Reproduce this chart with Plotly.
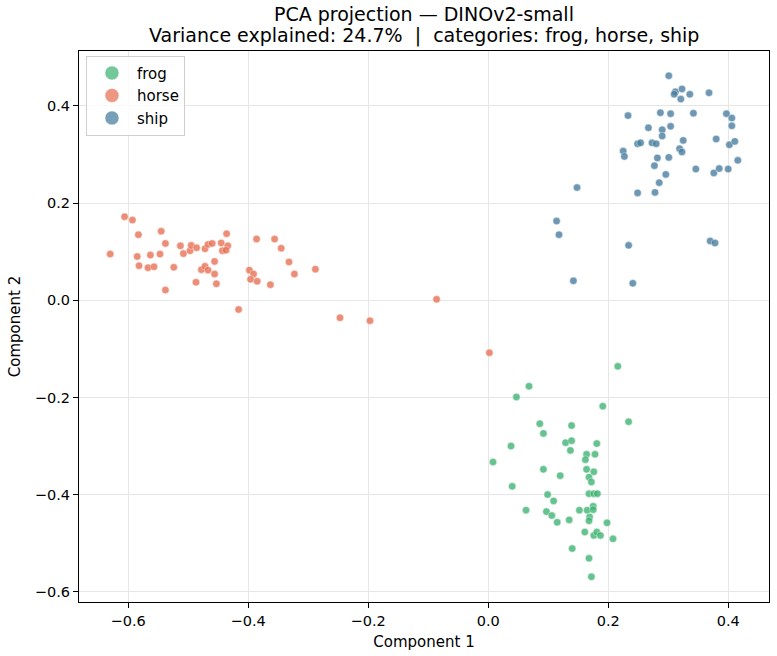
import plotly.graph_objects as go

categories = ["frog", "horse", "ship"]
colors = ["#3cb371", "#e76f51", "#457b9d"]

frog_x = [0.216, 0.068, 0.047, 0.191, 0.234, 0.086, 0.139, 0.092, 0.038, 0.129,
          0.139, 0.181, 0.137, 0.008, 0.164, 0.178, 0.162, 0.092, 0.120, 0.164,
          0.176, 0.168, 0.172, 0.040, 0.099, 0.109, 0.168, 0.176, 0.182, 0.063,
          0.097, 0.106, 0.115, 0.135, 0.152, 0.165, 0.175, 0.175, 0.169, 0.168,
          0.198, 0.161, 0.176, 0.181, 0.187, 0.208, 0.140, 0.168, 0.172]
frog_y = [-0.136, -0.177, -0.199, -0.218, -0.250, -0.254, -0.258, -0.274, -0.300, -0.293,
          -0.289, -0.295, -0.309, -0.333, -0.317, -0.317, -0.328, -0.348, -0.361, -0.348,
          -0.353, -0.364, -0.374, -0.383, -0.400, -0.413, -0.398, -0.398, -0.398, -0.432,
          -0.435, -0.443, -0.457, -0.452, -0.432, -0.432, -0.424, -0.431, -0.446, -0.454,
          -0.458, -0.477, -0.484, -0.477, -0.484, -0.491, -0.511, -0.531, -0.569]

horse_x = [-0.606, -0.593, -0.630, -0.583, -0.545, -0.538, -0.585, -0.582, -0.567, -0.557,
           -0.563, -0.547, -0.538, -0.524, -0.513, -0.508, -0.497, -0.495, -0.486, -0.472,
           -0.467, -0.460, -0.487, -0.478, -0.472, -0.467, -0.456, -0.456, -0.453, -0.445,
           -0.436, -0.434, -0.443, -0.437, -0.416, -0.386, -0.356, -0.345, -0.332, -0.323,
           -0.398, -0.391, -0.396, -0.385, -0.363, -0.288, -0.247, -0.197, -0.086, 0.002]
horse_y = [0.172, 0.165, 0.095, 0.135, 0.142, 0.117, 0.090, 0.071, 0.067, 0.069,
           0.093, 0.095, 0.021, 0.068, 0.112, 0.096, 0.102, 0.113, 0.108, 0.106,
           0.115, 0.117, 0.037, 0.063, 0.070, 0.062, 0.080, 0.054, 0.034, 0.118,
           0.137, 0.112, 0.102, 0.103, -0.019, 0.126, 0.126, 0.107, 0.079, 0.054,
           0.062, 0.054, 0.043, 0.039, 0.032, 0.064, -0.036, -0.042, 0.002, -0.108]

ship_x = [0.301, 0.312, 0.323, 0.310, 0.321, 0.336, 0.368, 0.233, 0.287, 0.304,
          0.342, 0.397, 0.406, 0.406, 0.267, 0.290, 0.304, 0.290, 0.325, 0.380,
          0.402, 0.411, 0.249, 0.254, 0.273, 0.280, 0.225, 0.227, 0.319, 0.323,
          0.282, 0.301, 0.277, 0.346, 0.376, 0.385, 0.400, 0.416, 0.296, 0.285,
          0.249, 0.278, 0.148, 0.114, 0.118, 0.234, 0.142, 0.241, 0.370, 0.378]
ship_y = [0.462, 0.429, 0.435, 0.424, 0.414, 0.424, 0.427, 0.380, 0.386, 0.384,
          0.385, 0.384, 0.375, 0.359, 0.355, 0.351, 0.358, 0.338, 0.329, 0.332,
          0.320, 0.327, 0.322, 0.324, 0.324, 0.322, 0.307, 0.296, 0.312, 0.305,
          0.293, 0.294, 0.277, 0.270, 0.262, 0.271, 0.270, 0.288, 0.259, 0.242,
          0.221, 0.222, 0.232, 0.163, 0.135, 0.113, 0.040, 0.035, 0.122, 0.118]

xs = [frog_x, horse_x, ship_x]
ys = [frog_y, horse_y, ship_y]

FONT = "DejaVu Sans"
NB = "\u00a0"

fig = go.Figure()
for name, col, x, y in zip(categories, colors, xs, ys):
    fig.add_trace(go.Scatter(
        x=x, y=y, mode="markers", name=name, legendgroup=name, showlegend=False,
        marker=dict(size=7.5, color=col, opacity=0.78,
                    line=dict(color="white", width=0.5)),
    ))
# legend-only entries with larger symbols (markerscale-like)
for name, col in zip(categories, colors):
    fig.add_trace(go.Scatter(
        x=[None], y=[None], mode="markers", name=name, legendgroup=name,
        showlegend=True,
        marker=dict(size=14, color=col, opacity=0.72,
                    line=dict(color="white", width=0.5)),
    ))

axis_common = dict(
    showline=True, linecolor="black", linewidth=1.2, mirror=True,
    ticks="outside", ticklen=5, tickwidth=1, tickcolor="black",
    showgrid=True, gridcolor="#e6e6e6", gridwidth=1,
    zeroline=False, tickformat=".1f", dtick=0.2, tick0=0,
    tickfont=dict(family=FONT, size=14.5, color="black"),
)

title2 = ("Variance explained: 24.7%" + NB * 2 + "|" + NB * 2
          + "categories: " + ", ".join(categories))

fig.update_layout(
    width=777, height=656,
    margin=dict(l=79, r=8, t=51, b=54),
    paper_bgcolor="white", plot_bgcolor="white",
    font=dict(family=FONT, color="black"),
    xaxis=dict(range=[-0.682, 0.468],
               title=dict(text="Component 1", font=dict(family=FONT, size=15), standoff=8),
               **axis_common),
    yaxis=dict(range=[-0.621, 0.513],
               title=dict(text="Component 2", font=dict(family=FONT, size=15), standoff=10),
               **axis_common),
    legend=dict(x=0.0101, y=0.9915, xanchor="left", yanchor="top",
                bgcolor="rgba(255,255,255,0.8)", bordercolor="#cfcfcf", borderwidth=1,
                font=dict(family=FONT, size=15), itemsizing="trace", itemwidth=40,
                tracegroupgap=0),
    showlegend=True,
    annotations=[
        dict(text="PCA projection — DINOv2-small", xref="paper", yref="paper",
             x=0.5, y=(602 - 14) / 551, xanchor="center", yanchor="middle",
             showarrow=False, font=dict(family=FONT, size=19)),
        dict(text=title2,
             xref="paper", yref="paper",
             x=0.5, y=(602 - 36) / 551, xanchor="center", yanchor="middle",
             showarrow=False, font=dict(family=FONT, size=19)),
    ],
)

fig.write_html("out.html")
